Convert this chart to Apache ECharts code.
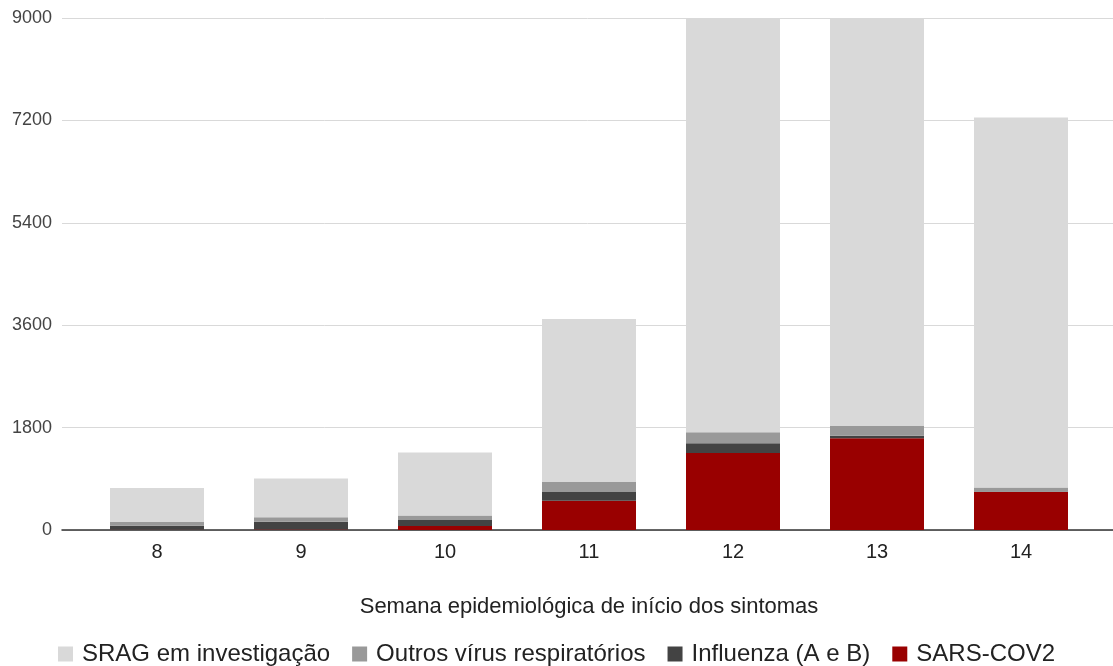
<!DOCTYPE html>
<html><head><meta charset="utf-8">
<script src="https://cdn.jsdelivr.net/npm/echarts@6/dist/echarts.min.js"></script>
<style>html,body{margin:0;padding:0;background:#fff}#c{width:1113px;height:666px}</style>
</head><body><div id="c"></div>
<script>
const categories = ['8','9','10','11','12','13','14'];
const sarsCov2   = [5, 10, 70, 515, 1354, 1612, 668];
const influenza  = [70, 135, 105, 152, 170, 46, 10];
const outros     = [65, 81, 82, 176, 193, 170, 70];
const sragInvest = [598, 680, 1107, 2866, 8500, 8200, 6504];
const yTicks = [0, 1800, 3600, 5400, 7200, 9000];

const names = ['SRAG em investigação','Outros vírus respiratórios','Influenza (A e B)','SARS-COV2'];
const colors = {'SRAG em investigação':'#d9d9d9','Outros vírus respiratórios':'#999999','Influenza (A e B)':'#434343','SARS-COV2':'#990000'};
const font = '"Liberation Sans", Arial, sans-serif';

const chart = echarts.init(document.getElementById('c'));
function ser(name, data){
  return {name, type:'bar', stack:'t', data, xAxisIndex:0, yAxisIndex:0, barWidth:94,
    itemStyle:{color:colors[name]}, clip:true};
}
chart.setOption({
  animation:false,
  grid:[
    {left:85, right:20, top:18, bottom:136},
    {left:62, right:0, top:18, bottom:136}
  ],
  legend:{
    data:names, top:637, left:'center', itemWidth:15, itemHeight:15, itemGap:22,
    icon:'rect', textStyle:{fontSize:24, color:'#222', fontFamily:font, padding:[0,0,0,4]}
  },
  xAxis:[
    {type:'category', gridIndex:0, data:categories, axisLine:{show:false}, axisTick:{show:false},
     axisLabel:{fontSize:20, color:'#222', margin:12, fontFamily:font},
     name:'Semana epidemiológica de início dos sintomas', nameLocation:'middle', nameGap:66,
     nameTextStyle:{fontSize:22, color:'#222', fontFamily:font}},
    {type:'value', gridIndex:1, min:0, max:1, show:true, axisLine:{show:true, lineStyle:{color:'#333', width:1.5}},
     axisTick:{show:false}, axisLabel:{show:false}, splitLine:{show:false}}
  ],
  yAxis:[
    {type:'value', gridIndex:0, min:0, max:9000, interval:1800, show:false, splitLine:{show:false}},
    {type:'value', gridIndex:1, min:0, max:9000, interval:1800,
     axisLine:{show:false}, axisTick:{show:false},
     axisLabel:{fontSize:18, color:'#444', margin:10, fontFamily:font,
       formatter:v=> yTicks.includes(v) ? String(v) : ''},
     splitLine:{show:true, lineStyle:{color:'#d9d9d9', width:1}}}
  ],
  series:[
    ser('SARS-COV2', sarsCov2),
    ser('Influenza (A e B)', influenza),
    ser('Outros vírus respiratórios', outros),
    ser('SRAG em investigação', sragInvest)
  ]
});
</script></body></html>
